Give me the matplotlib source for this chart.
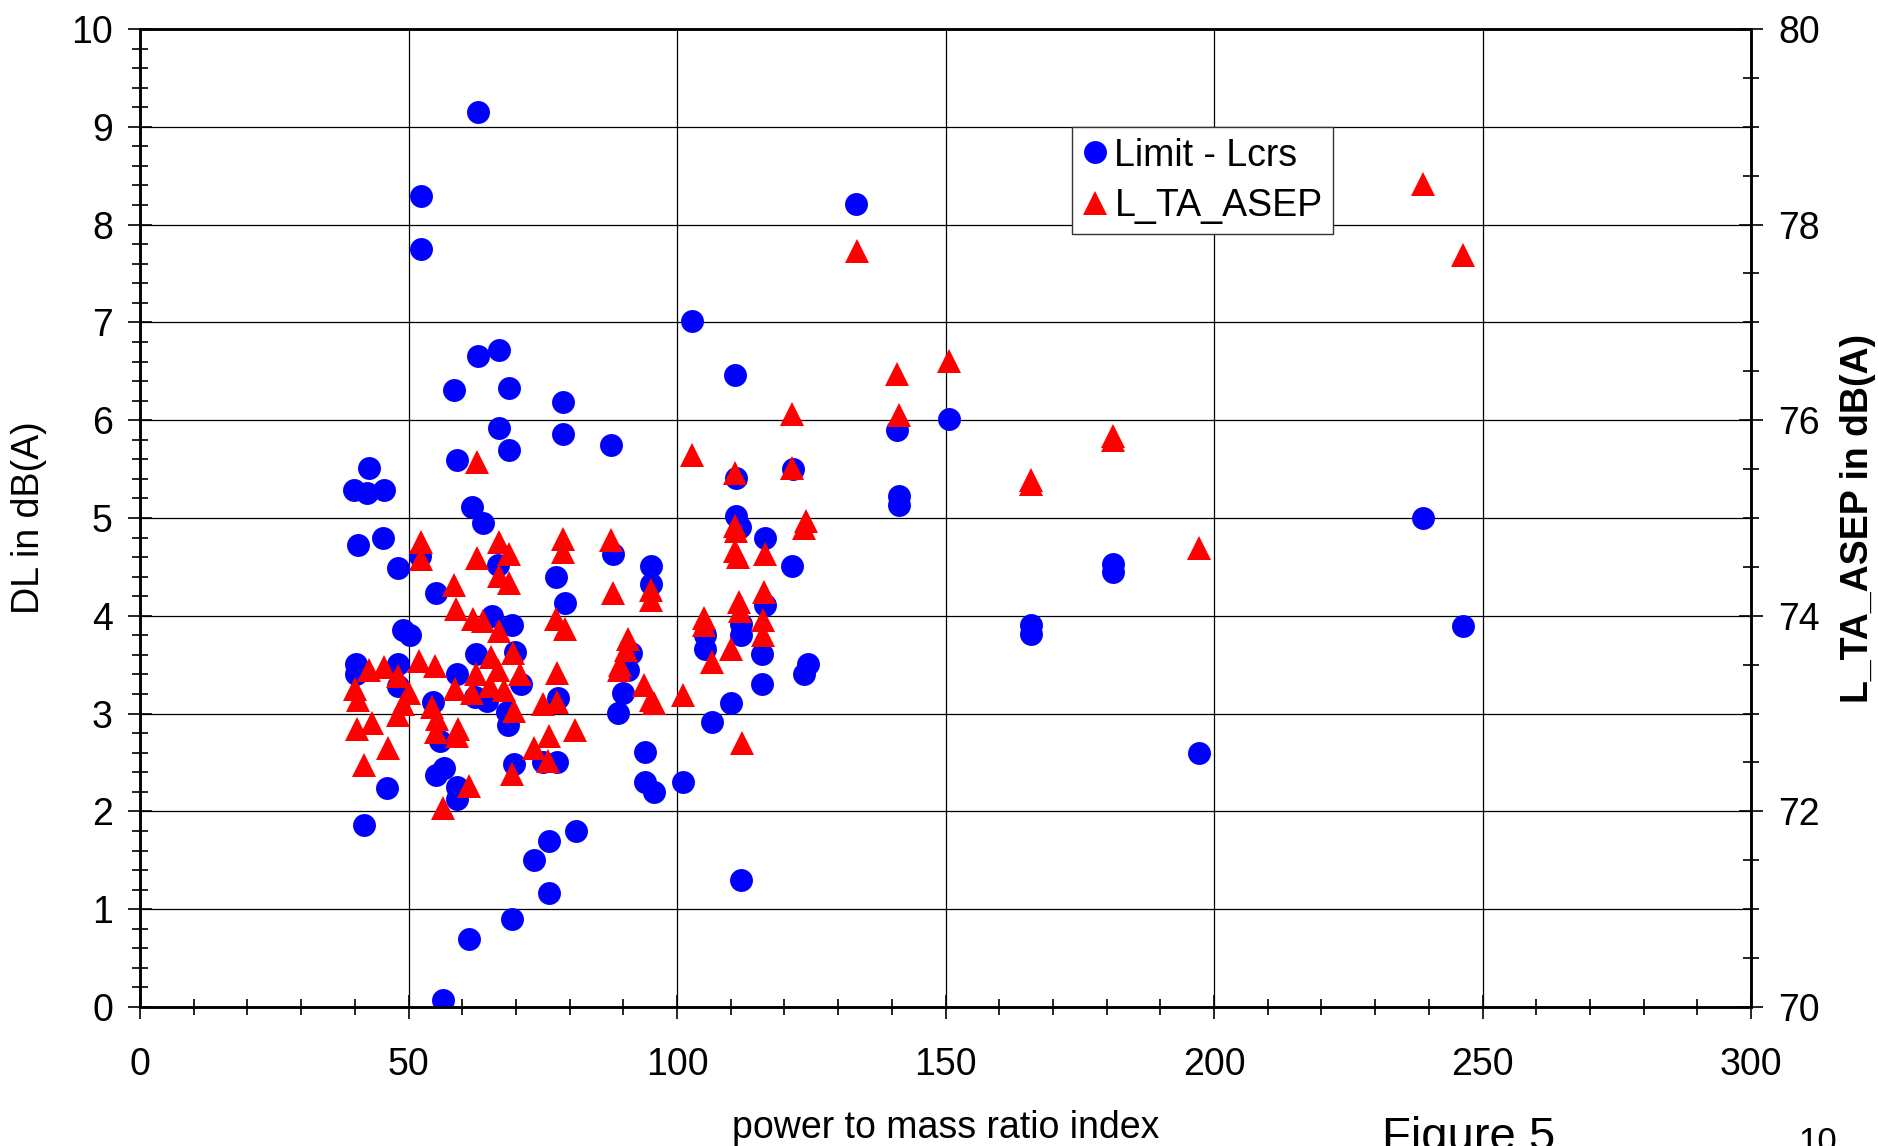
import numpy as np
import matplotlib
matplotlib.use('Agg')
import matplotlib.pyplot as plt
from matplotlib.ticker import MultipleLocator

plt.rcParams['font.family'] = ['Liberation Sans', 'DejaVu Sans']

# blue circles: power to mass ratio index vs DL (left axis)
pmr_limit = [62.9, 52.4, 52.4, 133.4, 102.8, 62.9, 66.8, 58.5, 68.7, 78.8,
             110.8, 66.8, 78.8, 68.7, 87.8, 59.1, 42.7, 39.8, 42.2, 45.5,
             61.9, 63.8, 40.6, 45.3, 48.1, 52.2, 55.1, 66.7, 77.4, 79.1,
             88.0, 95.2, 95.2, 110.9, 121.6, 111.0, 111.7, 116.3, 121.5, 116.3,
             141.0, 150.7, 141.3, 141.3, 166.0, 166.0, 181.2, 181.2, 197.2, 239.0,
             246.4, 49.0, 50.3, 40.3, 40.2, 48.1, 48.1, 54.6, 55.8, 55.2,
             56.6, 59.1, 59.1, 41.7, 46.0, 56.5, 61.2, 69.3, 73.4, 76.1,
             76.1, 81.2, 112.0, 59.0, 62.5, 65.5, 69.2, 69.8, 70.9, 62.3,
             64.6, 68.4, 68.6, 69.7, 75.0, 77.7, 77.8, 89.0, 89.9, 90.9,
             91.5, 94.0, 94.0, 95.7, 101.2, 105.2, 105.2, 106.6, 110.1, 111.9,
             112.0, 115.9, 115.9, 124.4, 123.7]
dl_limit = [9.15, 8.29, 7.75, 8.21, 7.01, 6.66, 6.72, 6.31, 6.33, 6.19,
            6.46, 5.92, 5.86, 5.70, 5.75, 5.59, 5.51, 5.29, 5.26, 5.29,
            5.11, 4.95, 4.72, 4.80, 4.49, 4.61, 4.23, 4.52, 4.40, 4.13,
            4.63, 4.51, 4.33, 5.41, 5.50, 5.02, 4.91, 4.80, 4.51, 4.11,
            5.90, 6.01, 5.22, 5.13, 3.91, 3.81, 4.53, 4.45, 2.60, 5.00,
            3.90, 3.85, 3.80, 3.51, 3.40, 3.51, 3.28, 3.12, 2.72, 2.37,
            2.44, 2.25, 2.13, 1.86, 2.24, 0.07, 0.70, 0.90, 1.50, 1.70,
            1.17, 1.80, 1.30, 3.41, 3.61, 4.00, 3.91, 3.63, 3.30, 3.17,
            3.13, 3.02, 2.88, 2.48, 2.51, 2.51, 3.16, 3.01, 3.21, 3.45,
            3.62, 2.61, 2.30, 2.20, 2.30, 3.80, 3.66, 2.91, 3.11, 3.92,
            3.80, 3.61, 3.30, 3.51, 3.40]

# red triangles: L_TA_ASEP (right axis)
pmr_asep = [239.0, 246.4, 133.5, 150.7, 140.9, 141.3, 121.5, 181.2, 181.2, 166.0,
            166.0, 197.2, 102.8, 110.8, 121.5, 62.8, 52.3, 52.3, 58.5, 62.7,
            66.8, 68.7, 66.8, 68.7, 78.8, 78.8, 87.7, 88.0, 95.2, 95.2,
            110.8, 111.0, 110.8, 111.3, 116.4, 124.1, 123.7, 111.6, 111.8, 116.2,
            105.1, 105.1, 116.0, 116.0, 110.1, 106.6, 90.9, 90.5, 89.4, 89.2,
            93.9, 95.2, 95.7, 101.2, 112.1, 81.0, 58.9, 62.0, 63.9, 66.8,
            77.4, 79.1, 52.0, 55.0, 42.7, 45.4, 48.0, 40.0, 40.6, 50.1,
            49.0, 48.1, 40.4, 43.2, 46.1, 41.7, 54.4, 55.3, 55.2, 59.2,
            59.0, 58.7, 62.5, 61.8, 65.4, 66.7, 65.1, 67.8, 69.4, 70.7,
            69.7, 69.3, 61.2, 56.5, 77.7, 75.0, 77.7, 76.2, 73.4, 76.0]
l_ta_asep = [78.42, 77.69, 77.73, 76.61, 76.47, 76.05, 76.06, 75.84, 75.80, 75.39,
             75.35, 74.69, 75.64, 75.46, 75.51, 75.57, 74.75, 74.58, 74.32, 74.59,
             74.75, 74.63, 74.41, 74.34, 74.79, 74.65, 74.77, 74.23, 74.26, 74.16,
             74.92, 74.87, 74.66, 74.60, 74.63, 74.97, 74.90, 74.14, 74.05, 74.24,
             73.98, 73.91, 73.96, 73.80, 73.66, 73.53, 73.76, 73.65, 73.50, 73.45,
             73.29, 73.14, 73.11, 73.19, 72.70, 72.83, 74.07, 73.97, 73.95, 73.84,
             73.97, 73.87, 73.54, 73.49, 73.45, 73.48, 73.38, 73.25, 73.14, 73.21,
             73.10, 72.99, 72.84, 72.90, 72.65, 72.47, 73.07, 72.94, 72.81, 72.84,
             72.77, 73.25, 73.40, 73.21, 73.58, 73.45, 73.28, 73.24, 73.62, 73.40,
             73.03, 72.38, 72.26, 72.03, 73.42, 73.10, 73.12, 72.77, 72.65, 72.52]

fs = 27

fig = plt.figure(figsize=(18.78, 11.46), dpi=100)
ax = fig.add_axes([140/1878, 1 - 1007/1146, 1611/1878, 978/1146])
ax2 = ax.twinx()

h1, = ax.plot(pmr_limit, dl_limit, 'o', color='#0000ff', markersize=16.5,
              markeredgewidth=0, label='Limit - Lcrs', zorder=3)
h2, = ax2.plot(pmr_asep, l_ta_asep, '^', color='#ff0000', markersize=17.5,
               markeredgewidth=0, label='L_TA_ASEP', zorder=3)

ax.set_xlim(0, 300)
ax.set_ylim(0, 10)
ax2.set_ylim(70, 80)

ax.xaxis.set_major_locator(MultipleLocator(50))
ax.xaxis.set_minor_locator(MultipleLocator(10))
ax.yaxis.set_major_locator(MultipleLocator(1))
ax.yaxis.set_minor_locator(MultipleLocator(0.2))
ax2.yaxis.set_major_locator(MultipleLocator(2))
ax2.yaxis.set_minor_locator(MultipleLocator(0.5))

ax.grid(True, which='major', color='black', linewidth=0.9)
ax.set_axisbelow(True)

for a in (ax, ax2):
    for s in a.spines.values():
        s.set_linewidth(1.8)
ax.tick_params(axis='both', which='major', direction='inout', length=17, width=1.2,
               labelsize=fs, pad=11)
ax.tick_params(axis='both', which='minor', direction='inout', length=12, width=1.2)
ax.tick_params(axis='x', which='major', pad=20)
ax2.tick_params(axis='y', which='major', direction='inout', length=17, width=1.2,
                labelsize=fs, pad=11)
ax2.tick_params(axis='y', which='minor', direction='inout', length=12, width=1.2)

ax.set_ylabel('DL in dB(A)', fontsize=fs)
ax.yaxis.set_label_coords(-0.058, 0.5)
ax2.set_ylabel('L_TA_ASEP in dB(A)', fontsize=fs, fontweight='bold')
ax2.yaxis.set_label_coords(1.0555, 0.5)

fig.text((140 + 1611/2) / 1878, 1 - 1138/1146, 'power to mass ratio index',
         fontsize=fs, ha='center', va='baseline')
fig.text(1382/1878, 1 - 1150/1146, 'Figure 5', fontsize=34, ha='left', va='baseline')
fig.text(1798/1878, 1 - 1152/1146, '10', fontsize=25, ha='left', va='baseline')

leg = ax2.legend(handles=[h1, h2], loc='upper left',
                 bbox_to_anchor=((1072 - 140)/1611, (1007 - 127)/978),
                 fontsize=fs, frameon=True, fancybox=False, framealpha=1,
                 edgecolor='#333333', borderaxespad=0, borderpad=0.28,
                 handlelength=0.65, handletextpad=0.2, labelspacing=0.38)
leg.get_frame().set_linewidth(1.0)

fig.savefig('out.png', dpi=100)
